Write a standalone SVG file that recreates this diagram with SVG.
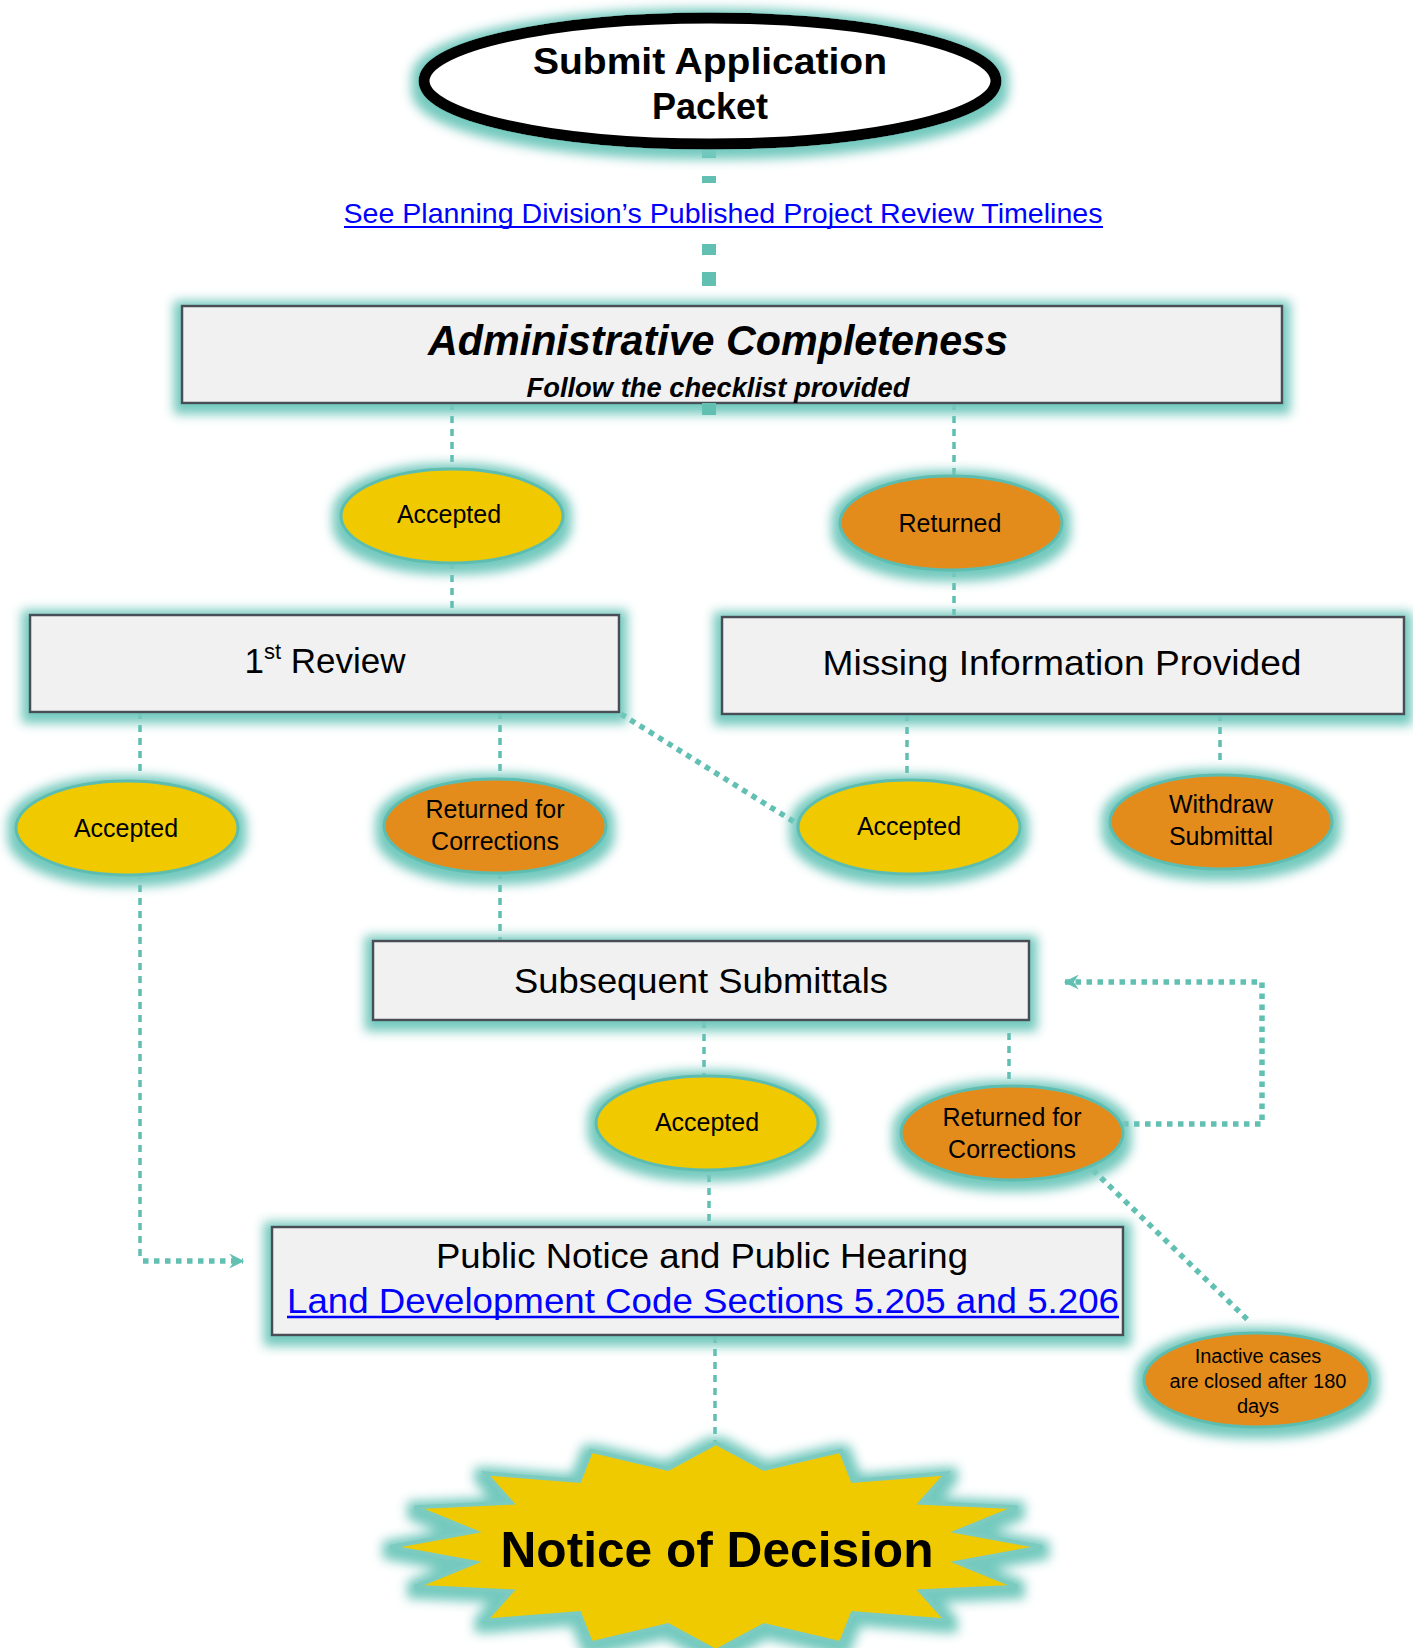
<svg xmlns="http://www.w3.org/2000/svg" width="1413" height="1648" viewBox="0 0 1413 1648">
<style>
text{font-family:"Liberation Sans",Arial,sans-serif;fill:#000;text-anchor:middle}
.box{fill:#f1f1f1;stroke:#4a4d55;stroke-width:2.5}
.yel{fill:#f0c900;stroke:#5dbdb1;stroke-width:3}
.org{fill:#e38c1c;stroke:#5dbdb1;stroke-width:3}
.lbl{font-size:25px}
.big{font-size:35px}
.link{fill:#0000ff}
.uline{stroke:#0000ff;fill:none}
.dash{stroke:#5fbdb1;stroke-width:3.5;stroke-dasharray:7 6;fill:none}
.dot{stroke:#62c0b3;stroke-width:5.5;stroke-dasharray:5.5 5.5;fill:none}
</style>
<defs>
<filter id="glow" x="-20%" y="-40%" width="140%" height="180%">
<feMorphology in="SourceAlpha" operator="dilate" radius="7" result="d"/>
<feGaussianBlur in="d" stdDeviation="5.5" result="b"/>
<feFlood flood-color="#74c9be"/>
<feComposite in2="b" operator="in" result="g"/>
<feOffset dx="0" dy="3"/>
<feMerge><feMergeNode/><feMergeNode in="SourceGraphic"/></feMerge>
</filter>
<marker id="arr" viewBox="0 0 12 12" refX="11" refY="6" markerWidth="15" markerHeight="15" markerUnits="userSpaceOnUse" orient="auto">
<path d="M0,0 L12,6 L0,12 L4,6 Z" fill="#62c0b3"/>
</marker>
</defs>
<rect width="1413" height="1648" fill="#fff"/>

<g id="connectors">
<rect x="702" y="147" width="14" height="11" fill="#62c0b3"/>
<rect x="702" y="176" width="14" height="7" fill="#62c0b3"/>
<rect x="702" y="244" width="14" height="11" fill="#62c0b3"/>
<rect x="702" y="272" width="14" height="14" fill="#62c0b3"/>
<path class="dash" d="M452,403 V470"/>
<path class="dash" d="M452,562 V615"/>
<path class="dash" d="M954,403 V476"/>
<path class="dash" d="M954,570 V615"/>
<path class="dash" d="M140,712 V775"/>
<path class="dash" d="M500,712 V775"/>
<path class="dash" d="M907,714 V775"/>
<path class="dash" d="M1220,714 V762"/>
<path class="dash" d="M140,872 V1260"/>
<path class="dot" d="M143,1261 H243" marker-end="url(#arr)"/>
<path class="dash" d="M500,872 V940"/>
<path class="dot" d="M621,714 L796,823"/>
<path class="dash" d="M704,1021 V1078"/>
<path class="dash" d="M1009,1033 V1085"/>
<path class="dot" d="M1123,1124 H1262 V982 H1065" marker-end="url(#arr)"/>
<path class="dash" d="M709,1175 V1227"/>
<path class="dot" d="M1093,1170 L1251,1323"/>
<path class="dash" d="M715,1336 V1442"/>
</g>

<g id="submit">
<ellipse cx="710" cy="81" rx="286" ry="63" fill="#fff" stroke="#000" stroke-width="11" filter="url(#glow)"/>
<text x="710" y="74" font-size="36" font-weight="bold" textLength="354" lengthAdjust="spacingAndGlyphs">Submit Application</text>
<text x="710" y="119" font-size="36" font-weight="bold">Packet</text>
</g>

<g id="timelines-link">
<text x="723" y="223" font-size="28" class="link" textLength="759" lengthAdjust="spacingAndGlyphs">See Planning Division’s Published Project Review Timelines</text>
<line class="uline" x1="344" y1="227" x2="1103" y2="227" stroke-width="2"/>
</g>

<g id="admin">
<rect class="box" x="182" y="306" width="1100" height="97" filter="url(#glow)"/>
<rect x="702" y="403" width="14" height="12" fill="#62c0b3"/>
<text x="718" y="355" font-size="42" font-weight="bold" font-style="italic" textLength="580" lengthAdjust="spacingAndGlyphs">Administrative Completeness</text>
<text x="718" y="397" font-size="27" font-weight="bold" font-style="italic" textLength="383" lengthAdjust="spacingAndGlyphs">Follow the checklist provided</text>
</g>

<g id="accepted1">
<ellipse class="yel" cx="452" cy="516" rx="111" ry="47" filter="url(#glow)"/>
<text class="lbl" x="449" y="523">Accepted</text>
</g>

<g id="returned1">
<ellipse class="org" cx="951" cy="523" rx="111" ry="47" filter="url(#glow)"/>
<text class="lbl" x="950" y="532">Returned</text>
</g>

<g id="review1">
<rect class="box" x="30" y="615" width="589" height="97" filter="url(#glow)"/>
<text class="big" x="325" y="673">1<tspan font-size="22" dy="-14">st</tspan><tspan dy="14"> Review</tspan></text>
</g>

<g id="missing">
<rect class="box" x="722" y="617" width="682" height="97" filter="url(#glow)"/>
<text class="big" x="1062" y="675" textLength="479" lengthAdjust="spacingAndGlyphs">Missing Information Provided</text>
</g>

<g id="accepted2">
<ellipse class="yel" cx="127" cy="828" rx="111" ry="47" filter="url(#glow)"/>
<text class="lbl" x="126" y="837">Accepted</text>
</g>

<g id="returned2">
<ellipse class="org" cx="495" cy="826" rx="111" ry="47" filter="url(#glow)"/>
<text class="lbl" x="495" y="818">Returned for</text>
<text class="lbl" x="495" y="850">Corrections</text>
</g>

<g id="accepted3">
<ellipse class="yel" cx="909" cy="827" rx="111" ry="47" filter="url(#glow)"/>
<text class="lbl" x="909" y="835">Accepted</text>
</g>

<g id="withdraw">
<ellipse class="org" cx="1221" cy="822" rx="111" ry="47" filter="url(#glow)"/>
<text class="lbl" x="1221" y="813">Withdraw</text>
<text class="lbl" x="1221" y="845">Submittal</text>
</g>

<g id="subsequent">
<rect class="box" x="373" y="941" width="656" height="79" filter="url(#glow)"/>
<text class="big" x="701" y="993" textLength="374" lengthAdjust="spacingAndGlyphs">Subsequent Submittals</text>
</g>

<g id="accepted4">
<ellipse class="yel" cx="707" cy="1123" rx="111" ry="47" filter="url(#glow)"/>
<text class="lbl" x="707" y="1131">Accepted</text>
</g>

<g id="returned3">
<ellipse class="org" cx="1012" cy="1133" rx="111" ry="47" filter="url(#glow)"/>
<text class="lbl" x="1012" y="1126">Returned for</text>
<text class="lbl" x="1012" y="1158">Corrections</text>
</g>

<g id="public">
<rect class="box" x="272" y="1227" width="851" height="108" filter="url(#glow)"/>
<text class="big" x="702" y="1268" textLength="532" lengthAdjust="spacingAndGlyphs">Public Notice and Public Hearing</text>
<text class="big link" x="703" y="1313" textLength="832" lengthAdjust="spacingAndGlyphs">Land Development Code Sections 5.205 and 5.206</text>
<line class="uline" x1="287" y1="1317" x2="1119" y2="1317" stroke-width="2.5"/>
</g>

<g id="inactive">
<ellipse class="org" cx="1257" cy="1380" rx="113" ry="47" filter="url(#glow)"/>
<text x="1258" y="1363" font-size="20">Inactive cases</text>
<text x="1258" y="1388" font-size="20">are closed after 180</text>
<text x="1258" y="1413" font-size="20">days</text>
</g>

<g id="decision">
<polygon points="716,1443 764,1469 840.8,1450.9 852.7,1480.9 946.5,1473.5 920.5,1502.8 1017.2,1507.2 957.3,1531.5 1042,1547 957.3,1562.5 1017.2,1586.8 920.5,1591.2 946.5,1620.5 852.7,1613.1 840.8,1643.1 764,1625 716,1651 668,1625 591.2,1643.1 579.3,1613.1 485.5,1620.5 511.5,1591.2 414.8,1586.8 474.7,1562.5 390,1547 474.7,1531.5 414.8,1507.2 511.5,1502.8 485.5,1473.5 579.3,1480.9 591.2,1450.9 668,1469" fill="#f0ca00" stroke="#7ccbc1" stroke-width="4" stroke-linejoin="miter" filter="url(#glow)"/>
<text x="717" y="1567" font-size="50" font-weight="bold" textLength="433" lengthAdjust="spacingAndGlyphs">Notice of Decision</text>
</g>
</svg>
